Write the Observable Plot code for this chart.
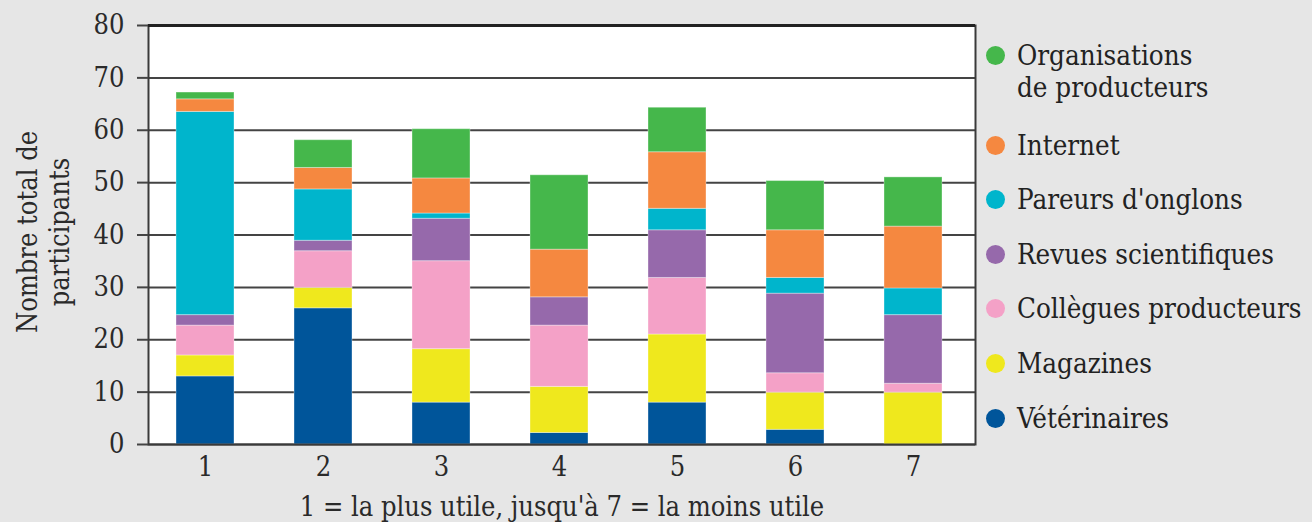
<!DOCTYPE html>
<html><head><meta charset="utf-8">
<script src="https://cdn.jsdelivr.net/npm/d3@7"></script>
<script src="https://cdn.jsdelivr.net/npm/@observablehq/plot@0.6"></script>
<style>
body{margin:0;background:#e6e6e6;}
#wrap{position:relative;width:1312px;height:522px;overflow:hidden;font-family:"DejaVu Serif Condensed","DejaVu Serif",serif;font-stretch:condensed;color:#222;}
#wrap svg{position:absolute;left:0;top:0;}
#legend{position:absolute;left:986px;top:39px;display:flex;flex-direction:column;gap:22.6px;font-size:27.5px;line-height:32px;}
.item{display:flex;align-items:flex-start;white-space:nowrap;}
.item:first-child{margin-bottom:3px;}
.sw{width:19px;height:19px;border-radius:50%;margin-top:7px;margin-right:12px;flex:none;}
</style></head><body><div id="wrap"></div>
<script>
const rangs = ["1","2","3","4","5","6","7"];
const series = ["Vétérinaires","Magazines","Collègues producteurs","Revues scientifiques","Pareurs d'onglons","Internet","Organisations de producteurs"];
const colors = ["#00559a","#efe81d","#f4a1c7","#9669ab","#00b5cc","#f58840","#45b74b"];
const veterinaires  = [13, 26, 8, 2.2, 8, 2.8, 0];
const magazines     = [4, 3.9, 10.2, 8.8, 13, 7.1, 9.9];
const collegues     = [5.7, 7, 16.8, 11.7, 10.8, 3.7, 1.7];
const revues        = [2, 2, 8.1, 5.4, 9.1, 15.2, 13.1];
const pareurs       = [38.8, 9.8, 1, 0, 4.1, 3, 5.1];
const internet      = [2.4, 4.1, 6.7, 9.1, 10.8, 9.1, 11.8];
const organisations = [1.3, 5.3, 9.4, 14.2, 8.5, 9.4, 9.4];
const yTicks = [0,10,20,30,40,50,60,70,80];
const xTitle = "1 = la plus utile, jusqu'à 7 = la moins utile";
const yTitle = "Nombre total de\nparticipants";
const legendLabels = ["Organisations\nde producteurs","Internet","Pareurs d'onglons","Revues scientifiques","Collègues producteurs","Magazines","Vétérinaires"];

const values = [veterinaires, magazines, collegues, revues, pareurs, internet, organisations];
const data = series.flatMap((s, i) => rangs.map((r, j) => ({rang: r, source: s, value: values[i][j]})));

const font = '"DejaVu Serif Condensed","DejaVu Serif",serif';
const chart = Plot.plot({
  width: 1312, height: 522,
  marginLeft: 148, marginRight: 337, marginTop: 25, marginBottom: 78,
  style: {background: "transparent", fontFamily: font, fontSize: "27px", color: "#2a2a2a", overflow: "visible"},
  x: {domain: rangs, paddingInner: 0.51, paddingOuter: 0.25, align: 0.46, label: null},
  y: {domain: [0, 80], label: null},
  color: {domain: series, range: colors},
  marks: [
    Plot.frame({fill: "white", stroke: null}),
    Plot.ruleY(yTicks, {stroke: "#444", strokeWidth: 2}),
    Plot.barY(data, {x: "rang", y: "value", fill: "source", order: series, stroke: "white", strokeOpacity: 0.35, strokeWidth: 1}),
    Plot.frame({stroke: "#3a3a3a", strokeWidth: 2}),
    Plot.ruleY([80], {stroke: "#222", strokeWidth: 3}),
    Plot.axisY({ticks: yTicks, tickSize: 11, tickPadding: 13, label: null, strokeWidth: 2, stroke: "#444"}),
    Plot.axisX({tickSize: 0, tickPadding: 12, label: null}),
    Plot.text([xTitle], {frameAnchor: "bottom", dy: 71, fontSize: 27}),
    Plot.text([yTitle], {frameAnchor: "left", textAnchor: "middle", lineAnchor: "middle", dx: -106, dy: -3, rotate: -90, lineHeight: 1.19, fontSize: 27})
  ]
});
const wrap = document.getElementById("wrap");
wrap.appendChild(chart);

const legend = document.createElement("div");
legend.id = "legend";
const legendColors = colors.slice().reverse();
legendLabels.forEach((lab, i) => {
  const item = document.createElement("div");
  item.className = "item";
  const sw = document.createElement("span");
  sw.className = "sw";
  sw.style.background = legendColors[i];
  const t = document.createElement("span");
  t.innerHTML = lab.replace("\n", "<br>");
  item.appendChild(sw); item.appendChild(t);
  legend.appendChild(item);
});
wrap.appendChild(legend);
</script></body></html>
